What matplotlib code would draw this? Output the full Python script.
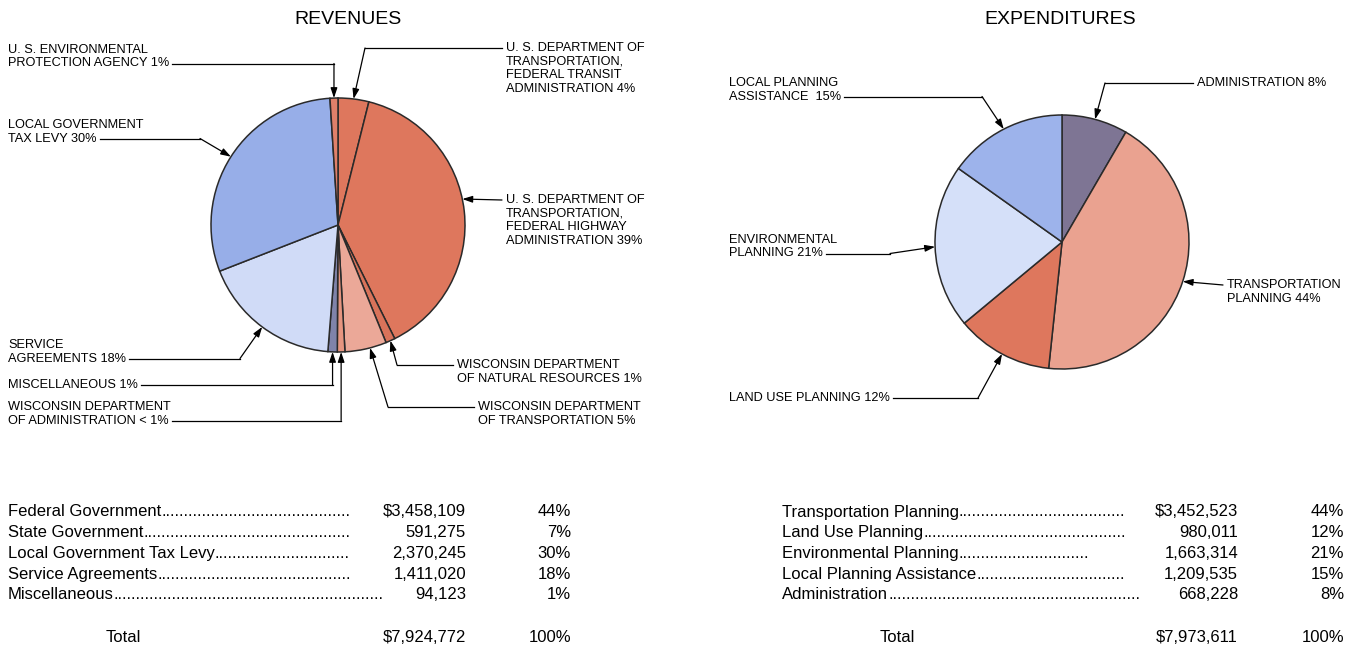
import numpy as np
import matplotlib
matplotlib.use("Agg")
import matplotlib.pyplot as plt

plt.rcParams["font.family"] = ["Liberation Sans", "DejaVu Sans"]

W, H = 1357, 649

# revenue slices, clockwise from 12 o'clock
rev_slices = ["FTA", "FHWA", "WDNR", "WisDOT", "WDOA", "Misc", "Service", "Local", "EPA"]
rev_values = [310000, 3068109, 95000, 420000, 76275, 94123, 1411020, 2370245, 80000]
rev_colors = ["#DE775D", "#DE775D", "#D9735A", "#EBA898", "#E69580", "#7F83AA",
              "#D0DBF7", "#97AEE8", "#E0806A"]

# expenditure slices, clockwise from 12 o'clock
exp_slices = ["Admin", "Transport", "LandUse", "Environ", "LocalPlan"]
exp_values = [668228, 3452523, 980011, 1663314, 1209535]
exp_colors = ["#7E7594", "#EAA290", "#DE775D", "#D5E0F9", "#9DB3EB"]

# tables
rev_cats = ["Federal Government", "State Government", "Local Government Tax Levy",
            "Service Agreements", "Miscellaneous"]
rev_amounts = [3458109, 591275, 2370245, 1411020, 94123]
rev_pcts = ["44%", "7%", "30%", "18%", "1%"]

exp_cats = ["Transportation Planning", "Land Use Planning", "Environmental Planning",
            "Local Planning Assistance", "Administration"]
exp_amounts = [3452523, 980011, 1663314, 1209535, 668228]
exp_pcts = ["44%", "12%", "21%", "15%", "8%"]

# callouts: lines, text x, first line y, attach side, elbow x ("v" = straight to slice), position in slice
rev_callouts = {
    "EPA": (["U. S. ENVIRONMENTAL", "PROTECTION AGENCY 1%"], 8, 50, "end", "v", 0.5),
    "FTA": (["U. S. DEPARTMENT OF", "TRANSPORTATION,", "FEDERAL TRANSIT",
             "ADMINISTRATION 4%"], 506, 48, "start", 365, 0.5),
    "Local": (["LOCAL GOVERNMENT", "TAX LEVY 30%"], 8, 125, "end", 200, 0.5),
    "FHWA": (["U. S. DEPARTMENT OF", "TRANSPORTATION,", "FEDERAL HIGHWAY",
              "ADMINISTRATION 39%"], 506, 200, "start", None, 0.54),
    "WDNR": (["WISCONSIN DEPARTMENT", "OF NATURAL RESOURCES 1%"], 457, 365, "start", 397, 0.5),
    "WisDOT": (["WISCONSIN DEPARTMENT", "OF TRANSPORTATION 5%"], 478, 407, "start", 388, 0.6),
    "Service": (["SERVICE", "AGREEMENTS 18%"], 8, 345, "end", 240, 0.5),
    "Misc": (["MISCELLANEOUS 1%"], 8, 385, "end", "v", 0.5),
    "WDOA": (["WISCONSIN DEPARTMENT", "OF ADMINISTRATION < 1%"], 8, 407, "end", "v", 0.5),
}
exp_callouts = {
    "Admin": (["ADMINISTRATION 8%"], 1197, 83, "start", 1105, 0.5),
    "Transport": (["TRANSPORTATION", "PLANNING 44%"], 1227, 285, "start", None, 0.5),
    "LandUse": (["LAND USE PLANNING 12%"], 729, 398, "end", 978, 0.5),
    "Environ": (["ENVIRONMENTAL", "PLANNING 21%"], 729, 240, "end", 890, 0.5),
    "LocalPlan": (["LOCAL PLANNING", "ASSISTANCE  15%"], 729, 83, "end", 982, 0.5),
}


def Y(y):
    return H - y


fig = plt.figure(figsize=(W / 100, H / 100), dpi=100)
ax = fig.add_axes([0, 0, 1, 1])
renderer = fig.canvas.get_renderer()

pies = []
for names, values, colors, cx, cy, callouts in [
        (rev_slices, rev_values, rev_colors, 338, 225, rev_callouts),
        (exp_slices, exp_values, exp_colors, 1062, 242, exp_callouts)]:
    wedges, _ = ax.pie(values, colors=colors, startangle=90, counterclock=False,
                       center=(cx, Y(cy)), radius=127,
                       wedgeprops=dict(edgecolor="#2a2a2a", linewidth=1.1))
    pies.append((names, wedges, cx, cy, 127, callouts))

ax.set_xlim(0, W)
ax.set_ylim(0, H)
ax.set_aspect("auto")
ax.axis("off")
inv = ax.transData.inverted()


def text_box(t):
    bb = t.get_window_extent(renderer)
    (x0, y0), (x1, y1) = inv.transform([[bb.x0, bb.y0], [bb.x1, bb.y1]])
    return x0, y0, x1, y1


for names, wedges, cx, cy, r, callouts in pies:
    for name, w in zip(names, wedges):
        lines, tx, ty, side, elbow, frac = callouts[name]
        th = np.radians(w.theta1 + frac * (w.theta2 - w.theta1))
        tip = (cx + r * np.cos(th), Y(cy) + r * np.sin(th))
        texts = []
        for i, s in enumerate(lines):
            texts.append(ax.text(tx, Y(ty + i * 13.5), s, fontsize=9.2,
                                 ha="left", va="center"))
        att = texts[-1] if side == "end" else texts[0]
        x0, y0, x1, y1 = text_box(att)
        ly = Y(ty + lines.index(att.get_text()) * 13.5)
        sx = x1 + 3 if side == "end" else x0 - 4
        if elbow is None:
            ex = sx
        elif elbow == "v":
            ex = tip[0]
        else:
            ex = elbow
        ax.plot([sx, ex], [ly, ly], color="black", lw=0.9)
        ax.annotate("", xy=tip, xytext=(ex, ly),
                    arrowprops=dict(arrowstyle="-|>,head_length=0.6,head_width=0.2",
                                    color="black", lw=0.9, shrinkA=0, shrinkB=0,
                                    mutation_scale=10))

ax.text(348, Y(20), "REVENUES", fontsize=14, ha="center", va="center")
ax.text(1060, Y(20), "EXPENDITURES", fontsize=14, ha="center", va="center")

dot_probe = ax.text(0, 300, "." * 20, fontsize=12)
dx0, _, dx1, _ = text_box(dot_probe)
dot_w = (dx1 - dx0) / 20
dot_probe.remove()


def draw_table(cats, amounts, pcts, x0, dot_ends, amt_right, pct_right, total_x):
    row_y = [512, 532.7, 553.4, 574.1, 594.8]
    for i, (c, a, p) in enumerate(zip(cats, amounts, pcts)):
        t = ax.text(x0, Y(row_y[i]), c, fontsize=12, ha="left", va="center")
        _, _, tx1, _ = text_box(t)
        n = max(int((dot_ends[i] - tx1) / dot_w), 0)
        ax.text(tx1, Y(row_y[i]), "." * n, fontsize=12, ha="left", va="center")
        amt = f"${a:,}" if i == 0 else f"{a:,}"
        ax.text(amt_right, Y(row_y[i]), amt, fontsize=12, ha="right", va="center")
        ax.text(pct_right, Y(row_y[i]), p, fontsize=12, ha="right", va="center")
    ax.text(total_x, Y(637), "Total", fontsize=12, ha="center", va="center")
    ax.text(amt_right, Y(637), f"${sum(amounts):,}", fontsize=12, ha="right", va="center")
    ax.text(pct_right, Y(637), "100%", fontsize=12, ha="right", va="center")


draw_table(rev_cats, rev_amounts, rev_pcts, 8, [351, 351, 351, 351, 386], 466, 571, 123)
draw_table(exp_cats, exp_amounts, exp_pcts, 782, [1127, 1127, 1092, 1127, 1142], 1238, 1344, 897)

fig.savefig("out.png", dpi=100)
